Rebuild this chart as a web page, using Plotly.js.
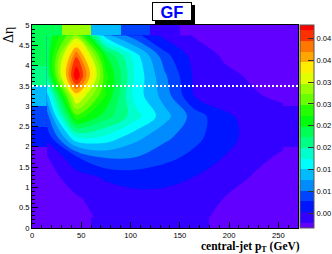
<!DOCTYPE html>
<html>
<head>
<meta charset="utf-8">
<script src="https://cdn.plot.ly/plotly-3.0.1.min.js"></script>
<style>html,body{margin:0;padding:0;background:#fff;}#chart{width:332px;height:254px;}</style>
</head>
<body>
<div id="chart"></div>
<script>
// bin centres of central-jet pT (GeV) and delta-eta
const xCenters = [15, 45, 75, 105, 135, 165, 195, 225, 255];
const yCenters = [0.25, 0.75, 1.25, 1.75, 2.25, 2.75, 3.25, 3.75, 4.25, 4.75];
// bin contents, one row per delta-eta bin (bottom to top)
const row025 = [0.00035, 0.0020, 0.0033, 0.0037, 0.0037, 0.0032, 0.0024, 0.0018, 0.0012];
const row075 = [0.0012, 0.0026, 0.0038, 0.0045, 0.0045, 0.0040, 0.0028, 0.0022, 0.0015];
const row125 = [0.0018, 0.0040, 0.0056, 0.0062, 0.0060, 0.0052, 0.0040, 0.0026, 0.0020];
const row175 = [0.0024, 0.0075, 0.0105, 0.0102, 0.0085, 0.0070, 0.0052, 0.0035, 0.0024];
const row225 = [0.0060, 0.0175, 0.0170, 0.0135, 0.0108, 0.0085, 0.0060, 0.0045, 0.0036];
const row275 = [0.0088, 0.0290, 0.0235, 0.0185, 0.0135, 0.0090, 0.0058, 0.0042, 0.0035];
const row325 = [0.0135, 0.0380, 0.0270, 0.0165, 0.0115, 0.0052, 0.0038, 0.0030, 0.0024];
const row375 = [0.0210, 0.0493, 0.0280, 0.0170, 0.0105, 0.0048, 0.0033, 0.0025, 0.0020];
const row425 = [0.0230, 0.0440, 0.0250, 0.0160, 0.0085, 0.0042, 0.0025, 0.0018, 0.0015];
const row475 = [0.0230, 0.0330, 0.0135, 0.0085, 0.0045, 0.0026, 0.0016, 0.0012, 0.0010];
const zRows = [row025, row075, row125, row175, row225, row275, row325, row375, row425, row475];

const zMin = 0.00035;
const zMax = 0.0493;
const nLevels = 20;
const levelColors = ['#6200ff','#3300ff','#0015ff','#0044ff','#008cff','#00bbff','#00fffc','#00ffcc','#00ff85','#00ff55',
                     '#00ff0e','#22ff00','#69ff00','#99ff00','#e1ff00','#ffee00','#ffa700','#ff7700','#ff3000','#ff0000'];
// palette axis ticks (labels as printed, the canvas edge cuts their last digit)
const cbTickVals = [0.005, 0.01, 0.015, 0.02, 0.025, 0.03, 0.035, 0.04, 0.045];
const cbTickText = ['0.00', '0.01', '0.01', '0.02', '0.02', '0.03', '0.03', '0.04', '0.04'];
const xTickVals = [0, 50, 100, 150, 200, 250];
const yTickVals = [0, 0.5, 1, 1.5, 2, 2.5, 3, 3.5, 4, 4.5, 5];
const yTickText = ['0', '0.5', '1', '1.5', '2', '2.5', '3', '3.5', '4', '4.5', '5'];
const cutEta = 3.5;

const dz = (zMax - zMin) / nLevels;
const contourScale = levelColors.map((c, i) => [i / (nLevels - 1), c]);
const stepScale = [];
levelColors.forEach((c, i) => { stepScale.push([i / nLevels, c]); stepScale.push([(i + 1) / nLevels, c]); });

const W = 332, H = 254, L = 32, R = 298, T = 25, B = 228;
const px2x = p => (p - L) / (R - L);
const px2y = p => (B - p) / (B - T);

const bg = {
  type: 'heatmap', x: xCenters, y: yCenters, z: zRows,
  zmin: zMin, zmax: zMax, colorscale: stepScale, showscale: false,
  zsmooth: false, hoverinfo: 'skip'
};
const cont = {
  type: 'contour', x: xCenters, y: yCenters, z: zRows,
  autocontour: false,
  contours: {start: zMin + dz, end: zMin + (nLevels - 1) * dz + dz * 0.01, size: dz, coloring: 'fill', showlines: false},
  line: {width: 0},
  colorscale: contourScale,
  colorbar: {
    thickness: 14, thicknessmode: 'pixels', len: B - T, lenmode: 'pixels',
    x: px2x(300), xanchor: 'left', y: 0.5, yanchor: 'middle', xpad: 0, ypad: 0,
    outlinewidth: 1, outlinecolor: '#555',
    tickmode: 'array', tickvals: cbTickVals, ticktext: cbTickText,
    ticks: 'inside', ticklen: 6, tickcolor: '#333', tickwidth: 1,
    tickfont: {family: 'Liberation Sans, Arial, sans-serif', size: 7.6, color: '#000'}
  }
};

const layout = {
  width: W, height: H,
  margin: {l: L, r: W - R, t: T, b: H - B, pad: 0, autoexpand: false},
  paper_bgcolor: '#fff', plot_bgcolor: '#fff',
  showlegend: false,
  font: {family: 'Liberation Sans, Arial, sans-serif', size: 7.6, color: '#000'},
  xaxis: {
    range: [0, 270], tickmode: 'array', tickvals: xTickVals, ticks: 'inside', ticklen: 6, tickcolor: '#000',
    minor: {dtick: 10, ticks: 'inside', ticklen: 3, tickcolor: '#000'},
    showline: true, mirror: true, linecolor: '#000', linewidth: 1, showgrid: false, zeroline: false,
    tickfont: {size: 7.6}, automargin: false
  },
  yaxis: {
    range: [0, 5], tickmode: 'array', tickvals: yTickVals, ticktext: yTickText, ticks: 'inside', ticklen: 6, tickcolor: '#000',
    minor: {dtick: 0.1, ticks: 'inside', ticklen: 3, tickcolor: '#000'},
    showline: true, mirror: true, linecolor: '#000', linewidth: 1, showgrid: false, zeroline: false,
    tickfont: {size: 7.6}, automargin: false
  },
  shapes: [
    {type: 'line', xref: 'x', yref: 'y', x0: 0, x1: 270, y0: cutEta, y1: cutEta,
     line: {color: '#fff', width: 2, dash: '2px,2px'}},
    {type: 'rect', xref: 'paper', yref: 'paper', x0: px2x(155), x1: px2x(195), y0: px2y(24), y1: px2y(5),
     fillcolor: '#000', line: {width: 0}}
  ],
  annotations: [
    {text: '<b>GF</b>', xref: 'paper', yref: 'paper', x: px2x(172), y: px2y(11.5), xanchor: 'center', yanchor: 'middle',
     showarrow: false, bgcolor: '#fff', bordercolor: '#000', borderwidth: 1, borderpad: 0, width: 38, height: 17,
     font: {family: 'Liberation Sans, Arial, sans-serif', size: 16.5, color: '#0000ff'}},
    {text: '<b>central-jet p<sub>T</sub> (GeV)</b>', xref: 'paper', yref: 'paper', x: px2x(200), y: px2y(246.5), xanchor: 'left', yanchor: 'middle',
     showarrow: false, borderpad: 0, font: {family: 'Liberation Serif, Times New Roman, serif', size: 11.5, color: '#000'}},
    {text: 'Δη', xref: 'paper', yref: 'paper', x: px2x(8), y: 1, xanchor: 'center', yanchor: 'top', textangle: -90,
     showarrow: false, font: {family: 'Liberation Serif, Times New Roman, serif', size: 14, color: '#000'}}
  ]
};

Plotly.newPlot('chart', [bg, cont], layout, {displayModeBar: false, staticPlot: true});
</script>
</body>
</html>
